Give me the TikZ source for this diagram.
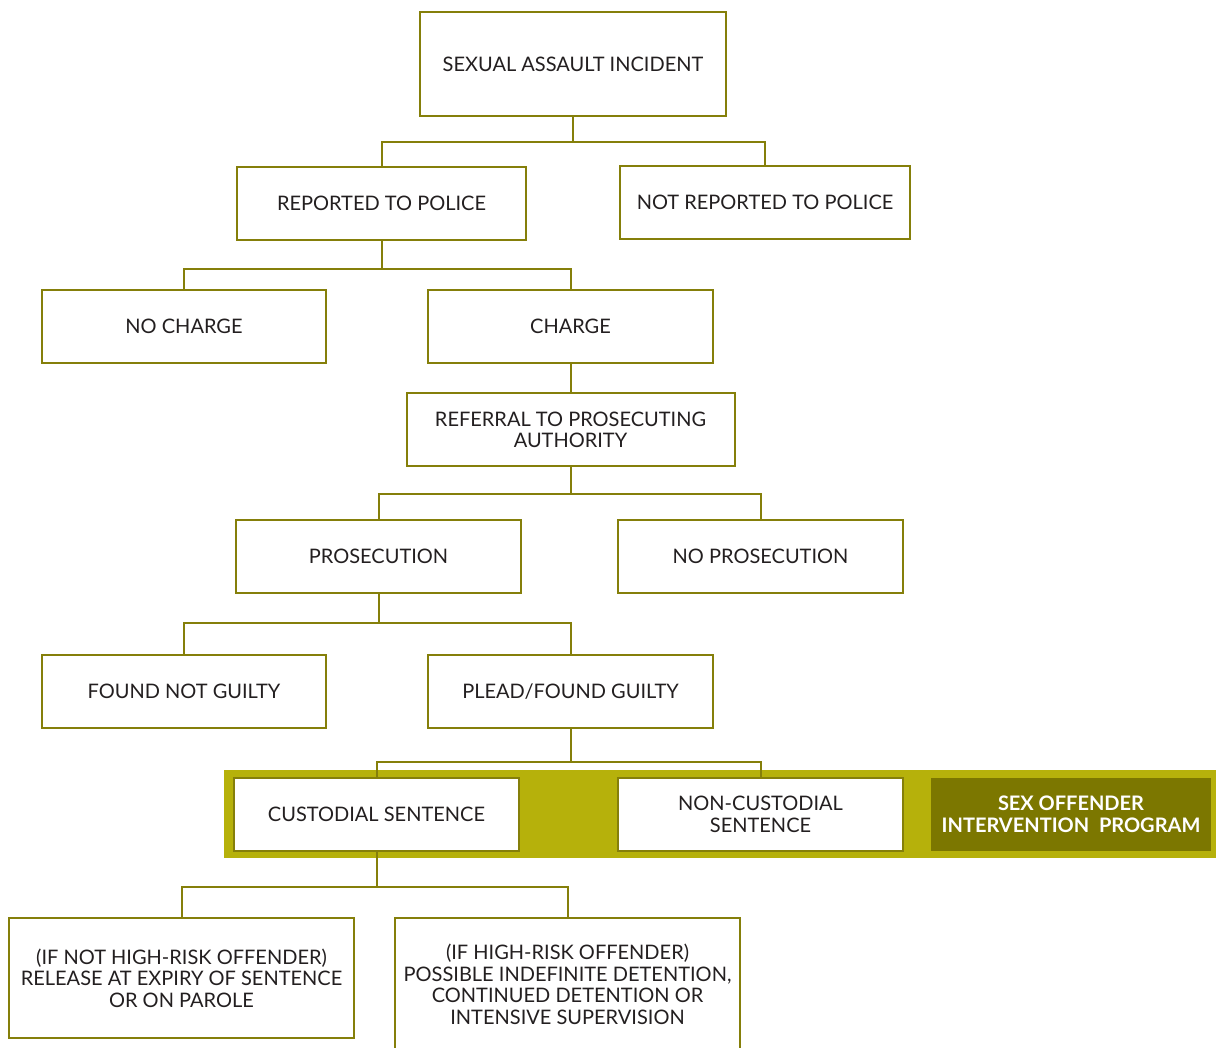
\documentclass[tikz,border=0pt]{standalone}
\usepackage{fontspec}
\setmainfont{Lato}
\definecolor{olv}{HTML}{857F0A}
\definecolor{band}{HTML}{B6B10B}
\definecolor{darkolv}{HTML}{7C7700}
\definecolor{txt}{HTML}{231F20}
\begin{document}
\begin{tikzpicture}[x=0.75pt,y=-0.75pt,
  box/.style={draw=olv, line width=1.5pt, fill=white, align=center, inner sep=0pt,
    text=txt, font=\fontsize{15}{15.6}\selectfont},
  tall/.style={font=\fontsize{15}{16.2}\selectfont},
  conn/.style={draw=olv, line width=1.5pt},
  sz/.style 2 args={minimum width=0.75pt*#1, minimum height=0.75pt*#2}]
\clip (0,0) rectangle (1216,1048);
\fill[white] (0,0) rectangle (1216,1048);
\fill[band] (224,770) rectangle (1216,858);
\node[box, sz={306}{104}] (inc) at (573,64) {SEXUAL ASSAULT INCIDENT};
\node[box, sz={289}{73}] (rep) at (381.5,203.5) {REPORTED TO POLICE};
\node[box, sz={290}{73}] (nrep) at (765,202.5) {NOT REPORTED TO POLICE};
\node[box, sz={284}{73}] (noch) at (184,326.5) {NO CHARGE};
\node[box, sz={285}{73}] (ch) at (570.5,326.5) {CHARGE};
\node[box, sz={328}{73}] (ref) at (570.5,429.5) {REFERRAL TO PROSECUTING\\AUTHORITY};
\node[box, sz={285}{73}] (pros) at (378.5,556.5) {PROSECUTION};
\node[box, sz={285}{73}] (npros) at (760.5,556.5) {NO PROSECUTION};
\node[box, sz={284}{73}] (fng) at (184,691.5) {FOUND NOT GUILTY};
\node[box, sz={285}{73}] (pfg) at (570.5,691.5) {PLEAD/FOUND GUILTY};
\node[box, sz={285}{73}] (cust) at (376.5,814.5) {CUSTODIAL SENTENCE};
\node[box, sz={285}{73}, font=\fontsize{15}{16.2}\selectfont] (ncust) at (760.5,814.5) {NON-CUSTODIAL\\SENTENCE};
\node[box, draw=none, fill=darkolv, text=white, sz={280}{73}, font=\fontsize{15}{16.5}\selectfont\bfseries] (soip) at (1071,814.5) {SEX OFFENDER\\INTERVENTION\ \ PROGRAM};
\node[box, tall, sz={345}{120}] (rel) at (181.5,978) {(IF NOT HIGH-RISK OFFENDER)\\RELEASE AT EXPIRY OF SENTENCE\\OR ON PAROLE};
\node[box, tall, sz={345}{133}] (det) at (567.5,984.5) {(IF HIGH-RISK OFFENDER)\\POSSIBLE INDEFINITE DETENTION,\\CONTINUED DETENTION OR\\INTENSIVE SUPERVISION};
\draw[conn] (inc.south) -- ++(0,25) -| (rep.north);
\draw[conn] (inc.south) -- ++(0,25) -| (nrep.north);
\draw[conn] (rep.south) -- ++(0,28) -| (noch.north);
\draw[conn] (rep.south) -- ++(0,28) -| (ch.north);
\draw[conn] (ch.south) -- (ref.north);
\draw[conn] (ref.south) -- ++(0,27) -| (pros.north);
\draw[conn] (ref.south) -- ++(0,27) -| (npros.north);
\draw[conn] (pros.south) -- ++(0,29) -| (fng.north);
\draw[conn] (pros.south) -- ++(0,29) -| (pfg.north);
\draw[conn] (pfg.south) -- ++(0,33) -| (cust.north);
\draw[conn] (pfg.south) -- ++(0,33) -| (ncust.north);
\draw[conn] (cust.south) -- ++(0,35) -| (rel.north);
\draw[conn] (cust.south) -- ++(0,35) -| (det.north);
\end{tikzpicture}
\end{document}
